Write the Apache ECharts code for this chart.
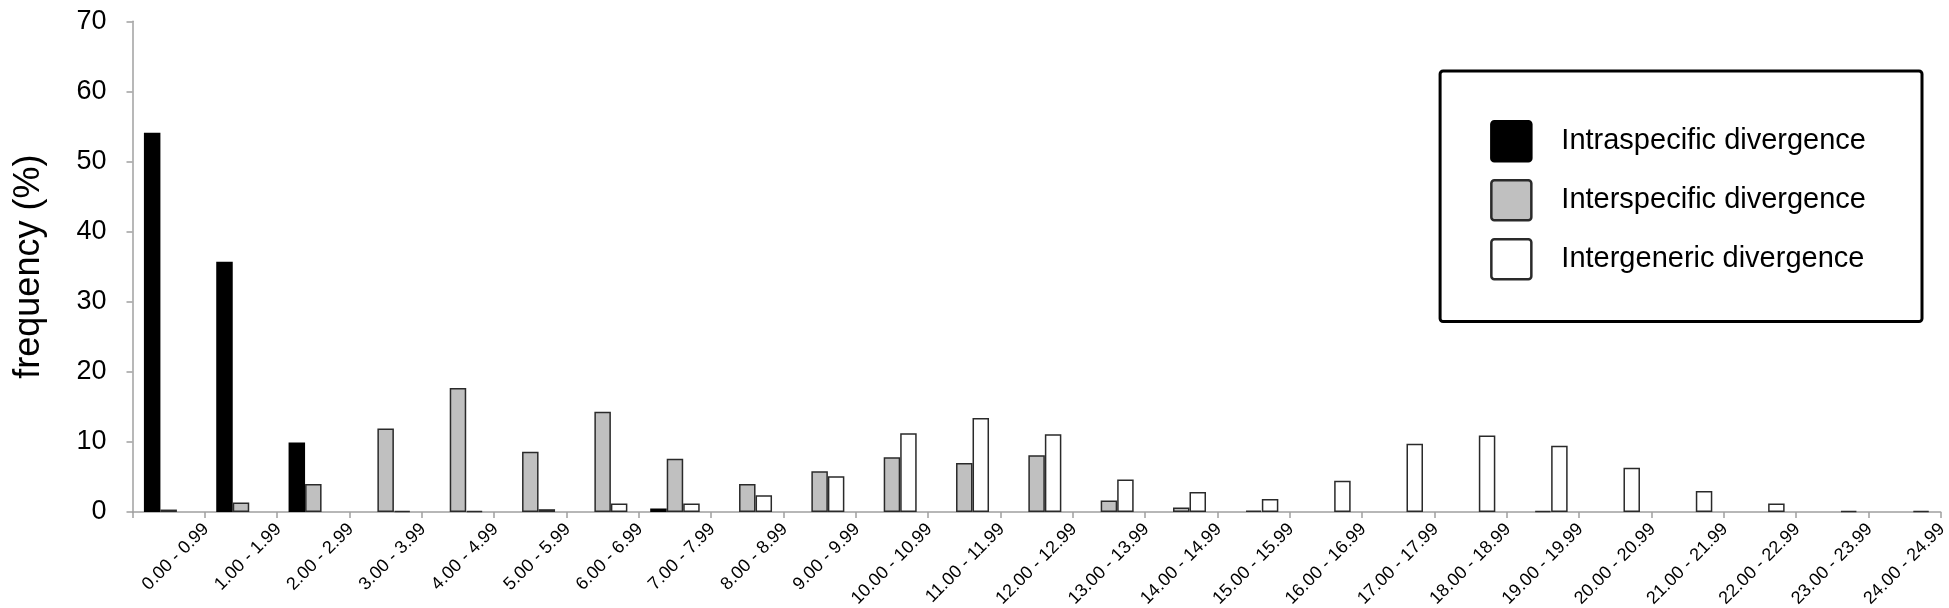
<!DOCTYPE html>
<html>
<head>
<meta charset="utf-8">
<script src="https://cdn.jsdelivr.net/npm/echarts@6/dist/echarts.min.js"></script>
<style>
html,body{margin:0;padding:0;background:#fff;}
#chart{width:1949px;height:608px;}
</style>
</head>
<body>
<div id="chart"></div>
<script>
const categories = [
  "0.00 - 0.99","1.00 - 1.99","2.00 - 2.99","3.00 - 3.99","4.00 - 4.99",
  "5.00 - 5.99","6.00 - 6.99","7.00 - 7.99","8.00 - 8.99","9.00 - 9.99",
  "10.00 - 10.99","11.00 - 11.99","12.00 - 12.99","13.00 - 13.99","14.00 - 14.99",
  "15.00 - 15.99","16.00 - 16.99","17.00 - 17.99","18.00 - 18.99","19.00 - 19.99",
  "20.00 - 20.99","21.00 - 21.99","22.00 - 22.99","23.00 - 23.99","24.00 - 24.99"
];
const intraspecific = [54.1, 35.7, 9.9, 0, 0, 0, 0, 0.5, 0, 0, 0, 0, 0, 0, 0, 0, 0, 0, 0, 0, 0, 0, 0, 0, 0];
const interspecific = [0.35, 1.35, 4.0, 11.9, 17.7, 8.6, 14.3, 7.6, 4.0, 5.8, 7.8, 7.0, 8.1, 1.65, 0.65, 0.2, 0, 0, 0, 0.15, 0, 0, 0, 0, 0];
const intergeneric = [0, 0, 0, 0.15, 0.15, 0.4, 1.2, 1.2, 2.4, 5.1, 11.25, 13.4, 11.1, 4.65, 2.85, 1.85, 4.45, 9.75, 10.9, 9.45, 6.3, 3.0, 1.2, 0.15, 0.15];
const yTicks = [0, 10, 20, 30, 40, 50, 60, 70];
const seriesNames = ["Intraspecific divergence", "Interspecific divergence", "Intergeneric divergence"];

const FONT = "'Liberation Sans', Arial, sans-serif";
const toData = arr => arr.map(v => v === 0 ? '-' : v);

const chart = echarts.init(document.getElementById('chart'), null, {renderer: 'canvas'});
const iconPath = 'path://M3,0 H37 A3,3 0 0 1 40,3 V37 A3,3 0 0 1 37,40 H3 A3,3 0 0 1 0,37 V3 A3,3 0 0 1 3,0 Z';

chart.setOption({
  animation: false,
  backgroundColor: '#fff',
  textStyle: {fontFamily: FONT},
  grid: {left: 132.5, right: 8.3, top: 21.3, bottom: 96, containLabel: false, outerBoundsMode: 'none'},
  legend: {
    show: true,
    data: seriesNames,
    orient: 'vertical',
    right: 27,
    top: 71,
    padding: [49, 56, 41, 50],
    itemWidth: 40,
    itemHeight: 40,
    itemGap: 16.5,
    icon: iconPath,
    borderColor: '#000',
    borderWidth: 3,
    borderRadius: 3,
    selectedMode: false,
    itemStyle: {borderWidth: 2.5},
    textStyle: {fontSize: 29, color: '#000', fontFamily: FONT, padding: [0, 0, 0, 25]}
  },
  xAxis: {
    type: 'category',
    data: categories,
    boundaryGap: true,
    axisLine: {show: true, lineStyle: {color: '#a0a0a0', width: 1.5}},
    axisTick: {show: true, length: 6, lineStyle: {color: '#a0a0a0', width: 1.5}},
    axisLabel: {
      interval: 0,
      rotate: 45,
      margin: 52,
      fontSize: 18,
      color: '#000',
      fontFamily: FONT,
      padding: [0, -53, 0, 0]
    },
    splitLine: {show: false}
  },
  yAxis: {
    type: 'value',
    min: yTicks[0],
    max: yTicks[yTicks.length - 1],
    interval: 10,
    name: 'frequency (%)',
    nameLocation: 'middle',
    nameRotate: 90,
    nameGap: 85,
    nameTextStyle: {fontSize: 36, color: '#000', fontFamily: FONT},
    axisLine: {show: true, lineStyle: {color: '#a0a0a0', width: 1.5}},
    axisTick: {show: true, length: 6, lineStyle: {color: '#a0a0a0', width: 1.5}},
    axisLabel: {fontSize: 27, color: '#000', margin: 26, fontFamily: FONT},
    splitLine: {show: false}
  },
  series: [
    {
      name: seriesNames[0], type: 'bar', data: toData(intraspecific),
      barWidth: 16.5, barGap: '0%',
      itemStyle: {color: '#000', borderColor: '#000', borderWidth: 1.5}
    },
    {
      name: seriesNames[1], type: 'bar', data: toData(interspecific),
      barWidth: 16.5, barGap: '0%',
      itemStyle: {color: '#c0c0c0', borderColor: '#2a2a2a', borderWidth: 1.5}
    },
    {
      name: seriesNames[2], type: 'bar', data: toData(intergeneric),
      barWidth: 16.5, barGap: '0%',
      itemStyle: {color: '#fff', borderColor: '#2a2a2a', borderWidth: 1.5}
    }
  ]
});
</script>
</body>
</html>
